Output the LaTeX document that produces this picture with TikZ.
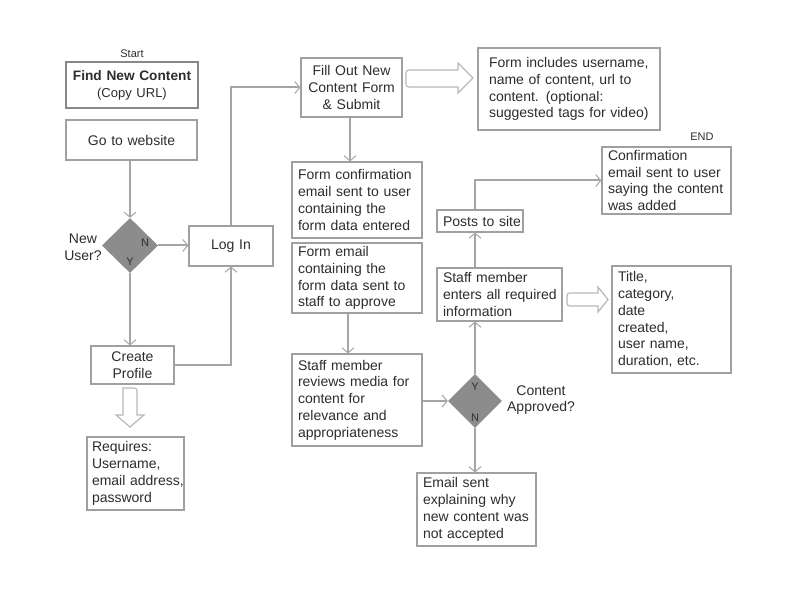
\documentclass[tikz,border=0pt]{standalone}
\usepackage{fontspec}
\setmainfont{Liberation Sans}
\usetikzlibrary{arrows.meta,calc,shapes.geometric}
\definecolor{txt}{RGB}{45,45,45}
\definecolor{boxc}{RGB}{160,160,160}
\definecolor{findc}{RGB}{135,135,135}
\definecolor{linec}{RGB}{165,165,165}
\definecolor{dia}{RGB}{140,140,140}
\definecolor{hol}{RGB}{185,185,185}
\newcommand\lnx[1]{\mbox{#1}}
\begin{document}
\begin{tikzpicture}[x=1pt,y=-1pt,
  font=\fontsize{14}{16.8}\selectfont, text=txt,
  box/.style={draw=boxc, line width=1.2pt, inner xsep=6pt, inner ysep=0pt, align=left},
  cbox/.style={box, align=center},
  small/.style={font=\fontsize{11}{13}\selectfont},
  dnode/.style={diamond, fill=dia, draw=none, inner sep=0pt},
  arr/.style={draw=linec, line width=2pt, -{Straight Barb[length=5pt,width=12pt,line width=1pt]}},
  hollow/.style={draw=hol, line width=1.2pt, fill=white, line join=miter}]
\useasboundingbox[fill=white] (0,0) rectangle (792,612);

% left column
\node[small] (start) at (132,54) {Start};
\node[cbox, draw=findc, line width=2.4pt, minimum width=132pt, minimum height=46pt, text width=120pt] (find) at (132,85)
  {\lnx{\fontsize{13.7}{16.5}\selectfont\bfseries Find New Content}\\\lnx{\fontsize{13}{15}\selectfont (Copy URL)}};
\node[cbox, minimum width=131pt, minimum height=40pt, text width=119pt] (go) at (131.5,140) {\lnx{Go to website}};
\node[dnode, minimum width=56pt, minimum height=55pt] (d1) at (130,245.5) {};
\node[align=center, inner sep=0pt] (newuser) at (83,247.5) {New\\User?};
\node[small, inner sep=0pt] (n1) at (145,243) {N};
\node[small, inner sep=0pt] (y1) at (130,262) {Y};
\node[cbox, minimum width=84pt, minimum height=40pt, text width=72pt] (login) at (231,246) {\lnx{Log In}};
\node[cbox, minimum width=83pt, minimum height=38pt, text width=71pt] (create) at (132.5,365) {Create\\Profile};
\node[box, inner xsep=5pt, minimum width=97pt, minimum height=73pt, text width=87pt] (req) at (135.5,473.5)
  {Requires:\\Username,\\\lnx{email address,}\\password};

% middle column
\node[cbox, minimum width=101pt, minimum height=59pt, text width=89pt] (fill) at (351.5,87.5)
  {\lnx{Fill Out New}\\\lnx{Content Form}\\\lnx{\& Submit}};
\node[box, inner xsep=11pt, minimum width=182pt, minimum height=82pt, text width=160pt] (inc) at (569,89)
  {\lnx{Form includes username,}\\\lnx{name of content, url to}\\\lnx{content. (optional:}\\\lnx{suggested tags for video)}};
\node[box, minimum width=130pt, minimum height=76pt, text width=118pt] (fconf) at (357,200)
  {\lnx{Form confirmation}\\\lnx{email sent to user}\\\lnx{containing the}\\\lnx{form data entered}};
\node[box, minimum width=130pt, minimum height=70pt, text width=118pt] (femail) at (357,278)
  {\lnx{Form email}\\\lnx{containing the}\\\lnx{form data sent to}\\\lnx{staff to approve}};
\node[box, minimum width=130pt, minimum height=92pt, text width=118pt] (review) at (357,400)
  {\lnx{Staff member}\\\lnx{reviews media for}\\\lnx{content for}\\\lnx{relevance and}\\\lnx{appropriateness}};

% right part
\node[small] (endl) at (702,137) {END};
\node[box, minimum width=129pt, minimum height=67pt, text width=117pt] (conf) at (666.5,180.5)
  {\lnx{Confirmation}\\\lnx{email sent to user}\\\lnx{saying the content}\\\lnx{was added}};
\node[box, minimum width=86pt, minimum height=22pt, text width=74pt] (posts) at (480,221) {\lnx{Posts to site}};
\node[box, minimum width=125pt, minimum height=53pt, text width=113pt] (enters) at (499.5,294.5)
  {\lnx{Staff member}\\\lnx{enters all required}\\\lnx{information}};
\node[box, minimum width=119pt, minimum height=107pt, text width=107pt] (title) at (671.5,319.5)
  {Title,\\category,\\date\\created,\\\lnx{user name,}\\\lnx{duration, etc.}};
\node[dnode, minimum width=54pt, minimum height=54pt] (d2) at (475,401) {};
\node[small, inner sep=0pt] (y2) at (475,387) {Y};
\node[small, inner sep=0pt] (n2) at (475,418) {N};
\node[align=center, inner sep=0pt] (appr) at (541,400) {Content\\Approved?};
\node[box, minimum width=119pt, minimum height=73pt, text width=107pt] (email) at (476.5,509.5)
  {\lnx{Email sent}\\\lnx{explaining why}\\\lnx{new content was}\\\lnx{not accepted}};

% connectors
\draw[arr] (go.south -| d1.north) -- (d1.north);
\draw[arr] (d1.east) -- (d1.east -| login.west);
\draw[arr] (d1.south) -- (d1.south |- create.north);
\draw[arr] (create.east) -| (login.south);
\draw[arr] (login.north) |- (fill.west);
\draw[arr] ([xshift=-1.5pt]fill.south) -- ([xshift=-1.5pt]fill.south |- fconf.north);
\draw[arr] ([xshift=-9pt]femail.south) -- ([xshift=-9pt]review.north);
\draw[arr] (review.east |- d2.west) -- (d2.west);
\draw[arr] (d2.north) -- (d2.north |- enters.south);
\draw[arr] (d2.north |- enters.north) -- (d2.north |- posts.south);
\draw[arr] (d2.north |- posts.north) |- (conf.west);
\draw[arr] (d2.south) -- (d2.south |- email.north);

% hollow block arrows
\draw[hollow] (458,70) -- (458,63) -- (473,78) -- (458,93) -- (458,87) -- (412,87)
  .. controls (406,87) .. (406,81) -- (406,76) .. controls (406,70) .. (412,70) -- cycle;
\draw[hollow] (123,415) -- (123,388) -- (131,388) .. controls (137,388) .. (137,394)
  -- (137,415) -- (144,415) -- (130,427) -- (116,415) -- cycle;
\draw[hollow] (598,293) -- (598,287) -- (608,299.5) -- (598,312) -- (598,306) -- (573,306)
  .. controls (567,306) .. (567,300) -- (567,299) .. controls (567,293) .. (573,293) -- cycle;
\end{tikzpicture}
\end{document}
